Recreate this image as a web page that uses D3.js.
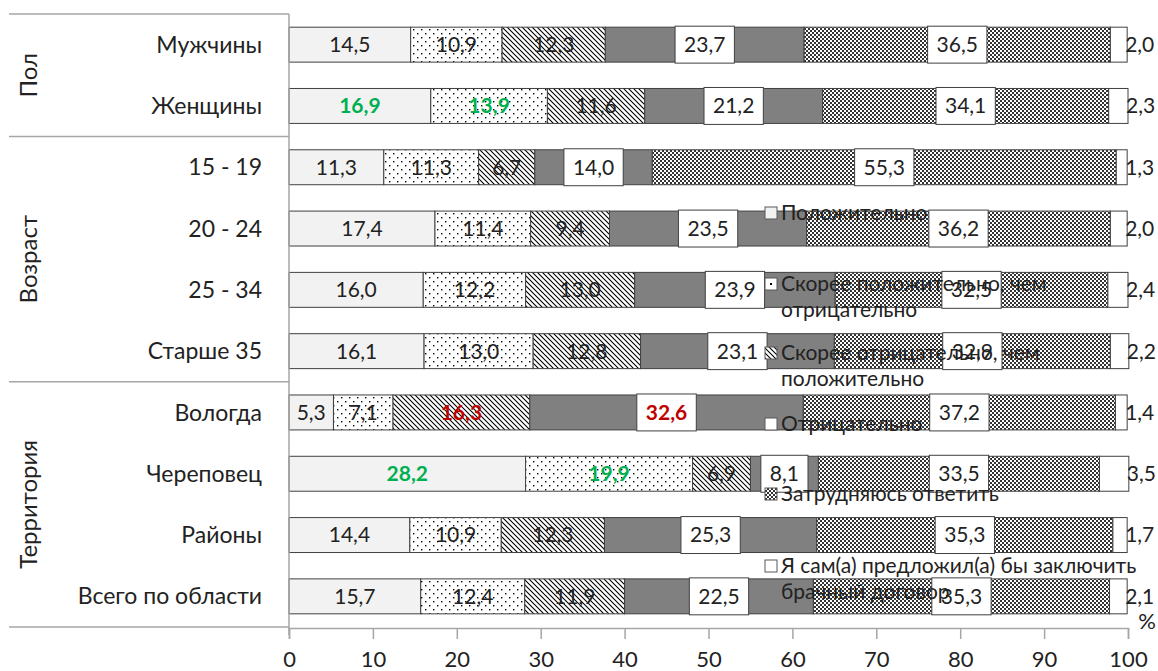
<!DOCTYPE html>
<html>
<head>
<meta charset="utf-8">
<script src="https://cdn.jsdelivr.net/npm/d3@7"></script>
<style>
  body { margin: 0; background: #fff; }
  svg { font-family: Lato, "Noto Sans", sans-serif; }
</style>
</head>
<body>
<div id="chart"></div>
<script>
var categories = ['Мужчины', 'Женщины', '15 - 19', '20 - 24', '25 - 34', 'Старше 35',
    'Вологда', 'Череповец', 'Районы', 'Всего по области'];
var groupNames = ['Пол', 'Возраст', 'Территория'];
var groupSizes = [2, 4, 4];
var seriesNames = ['Положительно', 'Скорее положительно, чем отрицательно',
    'Скорее отрицательно, чем положительно', 'Отрицательно', 'Затрудняюсь ответить',
    'Я сам(а) предложил(а) бы заключить брачный договор'];

var positive       = [14.5, 16.9, 11.3, 17.4, 16.0, 16.1, 5.3, 28.2, 14.4, 15.7];
var ratherPositive = [10.9, 13.9, 11.3, 11.4, 12.2, 13.0, 7.1, 19.9, 10.9, 12.4];
var ratherNegative = [12.3, 11.6, 6.7, 9.4, 13.0, 12.8, 16.3, 6.9, 12.3, 11.9];
var negative       = [23.7, 21.2, 14.0, 23.5, 23.9, 23.1, 32.6, 8.1, 25.3, 22.5];
var hardToSay      = [36.5, 34.1, 55.3, 36.2, 32.5, 32.9, 37.2, 33.5, 35.3, 35.3];
var selfPropose    = [2.0, 2.3, 1.3, 2.0, 2.4, 2.2, 1.4, 3.5, 1.7, 2.1];
var xTicks = [0, 10, 20, 30, 40, 50, 60, 70, 80, 90, 100];

// highlighted labels: [category index, series index, colour]
var highlights = [[1, 0, '#00b050'], [1, 1, '#00b050'], [7, 0, '#00b050'], [7, 1, '#00b050'],
    [6, 2, '#c00000'], [6, 3, '#c00000']];

var seriesValues = [positive, ratherPositive, ratherNegative, negative, hardToSay, selfPropose];
var fills = ['#f2f2f2', 'url(#dots)', 'url(#hatch)', '#808080', 'url(#checker)', '#ffffff'];
var legendFills = ['#f2f2f2', 'url(#dotsLegend)', 'url(#hatch)', '#ffffff', 'url(#checker)', '#ffffff'];
var legendLines = [['Положительно'], ['Скорее положительно, чем', 'отрицательно'],
    ['Скорее отрицательно, чем', 'положительно'], ['Отрицательно'], ['Затрудняюсь ответить'],
    ['Я сам(а) предложил(а) бы заключить', 'брачный договор']];

var W = 1158, H = 671;
var plot = { left: 289, right: 1128, top: 14, bottom: 627 };
var textColor = '#222';
var axisColor = '#a6a6a6';

var svg = d3.select('#chart').append('svg')
    .attr('width', W)
    .attr('height', H);

// patterns
var defs = svg.append('defs');
var dots = defs.append('pattern').attr('id', 'dots').attr('patternUnits', 'userSpaceOnUse')
    .attr('width', 8).attr('height', 8);
dots.append('rect').attr('width', 8).attr('height', 8).attr('fill', '#fff');
dots.append('rect').attr('x', 1).attr('y', 1).attr('width', 1.4).attr('height', 1.4).attr('fill', '#000');
dots.append('rect').attr('x', 5).attr('y', 5).attr('width', 1.4).attr('height', 1.4).attr('fill', '#000');

var dotsLegend = defs.append('pattern').attr('id', 'dotsLegend').attr('patternUnits', 'objectBoundingBox')
    .attr('width', 1).attr('height', 1);
dotsLegend.append('rect').attr('width', 12).attr('height', 12).attr('fill', '#fff');
dotsLegend.append('rect').attr('x', 5).attr('y', 5).attr('width', 2).attr('height', 2).attr('fill', '#000');

var hatch = defs.append('pattern').attr('id', 'hatch').attr('patternUnits', 'userSpaceOnUse')
    .attr('width', 5).attr('height', 5);
hatch.append('rect').attr('width', 5).attr('height', 5).attr('fill', '#fff');
hatch.append('path').attr('d', 'M-1,-1L6,6M-1,4L1,6M4,-1L6,1')
    .attr('stroke', '#000').attr('stroke-width', 1.1);

var checker = defs.append('pattern').attr('id', 'checker').attr('patternUnits', 'userSpaceOnUse')
    .attr('width', 4).attr('height', 4);
checker.append('rect').attr('width', 4).attr('height', 4).attr('fill', '#fff');
checker.append('rect').attr('width', 2).attr('height', 2).attr('fill', '#333');
checker.append('rect').attr('x', 2).attr('y', 2).attr('width', 2).attr('height', 2).attr('fill', '#333');

var x = d3.scaleLinear().domain([0, 100]).range([plot.left, plot.right]);
var y = d3.scaleBand().domain(categories).range([plot.top, plot.bottom]).paddingInner(0.43).paddingOuter(0.215);
var step = y.step();

// stacked data
var rows = categories.map(function (c, i) {
    var row = { category: c };
    seriesValues.forEach(function (s, j) { row['s' + j] = s[i]; });
    return row;
});
var keys = seriesValues.map(function (s, j) { return 's' + j; });
var stacked = d3.stack().keys(keys)(rows);

function highlightOf(i, j) {
    for (var k = 0; k < highlights.length; k++) {
        if (highlights[k][0] === i && highlights[k][1] === j) return highlights[k][2];
    }
    return null;
}
function fmt(v) { return v.toFixed(1).replace('.', ','); }

// bars
var layers = svg.selectAll('g.layer')
    .data(stacked)
    .enter()
    .append('g')
    .attr('class', 'layer')
    .attr('fill', function (d, j) { return fills[j]; });
layers.selectAll('rect')
    .data(function (d) { return d; })
    .enter()
    .append('rect')
    .attr('x', function (d) { return x(d[0]); })
    .attr('y', function (d) { return y(d.data.category); })
    .attr('width', function (d) { return x(d[1]) - x(d[0]); })
    .attr('height', y.bandwidth())
    .attr('stroke', '#404040')
    .attr('stroke-width', 1);

// axes
svg.append('line')
    .attr('x1', plot.left).attr('x2', plot.left)
    .attr('y1', plot.top).attr('y2', plot.bottom + 8)
    .attr('stroke', axisColor).attr('stroke-width', 1.5);

var xAxis = svg.append('g')
    .attr('transform', 'translate(0,' + (plot.bottom + 1) + ')')
    .call(d3.axisBottom(x).tickValues(xTicks).tickSize(11).tickPadding(12).tickFormat(d3.format('d')));
xAxis.select('.domain').attr('stroke', axisColor).attr('stroke-width', 1.5);
xAxis.selectAll('.tick line').attr('stroke', axisColor).attr('stroke-width', 1.5);
xAxis.selectAll('.tick text').attr('font-size', 22).attr('fill', textColor)
    .attr('font-family', 'Lato, "Noto Sans", sans-serif');

svg.append('text')
    .attr('x', 1147).attr('y', 629)
    .attr('text-anchor', 'middle')
    .attr('font-size', 22)
    .attr('fill', textColor)
    .text('%');

// category labels
svg.selectAll('text.cat')
    .data(categories)
    .enter()
    .append('text')
    .attr('class', 'cat')
    .attr('x', 262)
    .attr('y', function (d) { return y(d) + y.bandwidth() / 2; })
    .attr('dy', '0.35em')
    .attr('text-anchor', 'end')
    .attr('font-size', 23)
    .attr('fill', textColor)
    .text(function (d) { return d; });

// group labels and separators
var start = 0;
var boundaries = [plot.top];
groupNames.forEach(function (g, k) {
    var y0 = plot.top + start * step;
    var y1 = plot.top + (start + groupSizes[k]) * step;
    boundaries.push(y1);
    svg.append('text')
        .attr('transform', 'translate(' + 29 + ',' + ((y0 + y1) / 2) + ') rotate(-90)')
        .attr('dy', '0.35em')
        .attr('text-anchor', 'middle')
        .attr('font-size', 24)
        .attr('fill', textColor)
        .text(g);
    start += groupSizes[k];
});
svg.selectAll('line.sep')
    .data(boundaries)
    .enter()
    .append('line')
    .attr('class', 'sep')
    .attr('x1', 9).attr('x2', plot.left)
    .attr('y1', function (d) { return d; })
    .attr('y2', function (d) { return d; })
    .attr('stroke', axisColor)
    .attr('stroke-width', 1.5);

// data labels
stacked.forEach(function (layer, j) {
    layer.forEach(function (d, i) {
        var cy = y(d.data.category) + y.bandwidth() / 2;
        var color = highlightOf(i, j);
        var g = svg.append('g');
        var cx = j === 5 ? x(d[1]) - 2 : (x(d[0]) + x(d[1])) / 2;
        var t = g.append('text')
            .attr('x', cx)
            .attr('y', cy)
            .attr('dy', '0.35em')
            .attr('text-anchor', j === 5 ? 'start' : 'middle')
            .attr('font-size', 21)
            .attr('font-weight', color ? 'bold' : 'normal')
            .attr('fill', color || textColor)
            .text(fmt(seriesValues[j][i]));
        if (j === 3 || j === 4) {
            var w = t.node().getComputedTextLength() + 18;
            g.insert('rect', 'text')
                .attr('x', cx - w / 2)
                .attr('y', y(d.data.category) - 1)
                .attr('width', w)
                .attr('height', y.bandwidth() + 2)
                .attr('fill', '#fff')
                .attr('stroke', '#404040')
                .attr('stroke-width', 1);
        }
    });
});

// legend (drawn over the bars)
var legendY = [213, 284, 353, 424, 494, 566];
var legend = svg.selectAll('g.legend')
    .data(seriesNames)
    .enter()
    .append('g')
    .attr('class', 'legend')
    .attr('transform', function (d, j) { return 'translate(765,' + legendY[j] + ')'; });
legend.append('rect')
    .attr('x', 0).attr('y', -6)
    .attr('width', 12).attr('height', 12)
    .attr('fill', function (d, j) { return legendFills[j]; })
    .attr('stroke', '#595959')
    .attr('stroke-width', 1);
legend.each(function (d, j) {
    var el = d3.select(this);
    legendLines[j].forEach(function (line, n) {
        el.append('text')
            .attr('x', 16)
            .attr('y', n * 26)
            .attr('dy', '0.35em')
            .attr('font-size', 21)
            .attr('fill', textColor)
            .text(line);
    });
});
</script>
</body>
</html>
